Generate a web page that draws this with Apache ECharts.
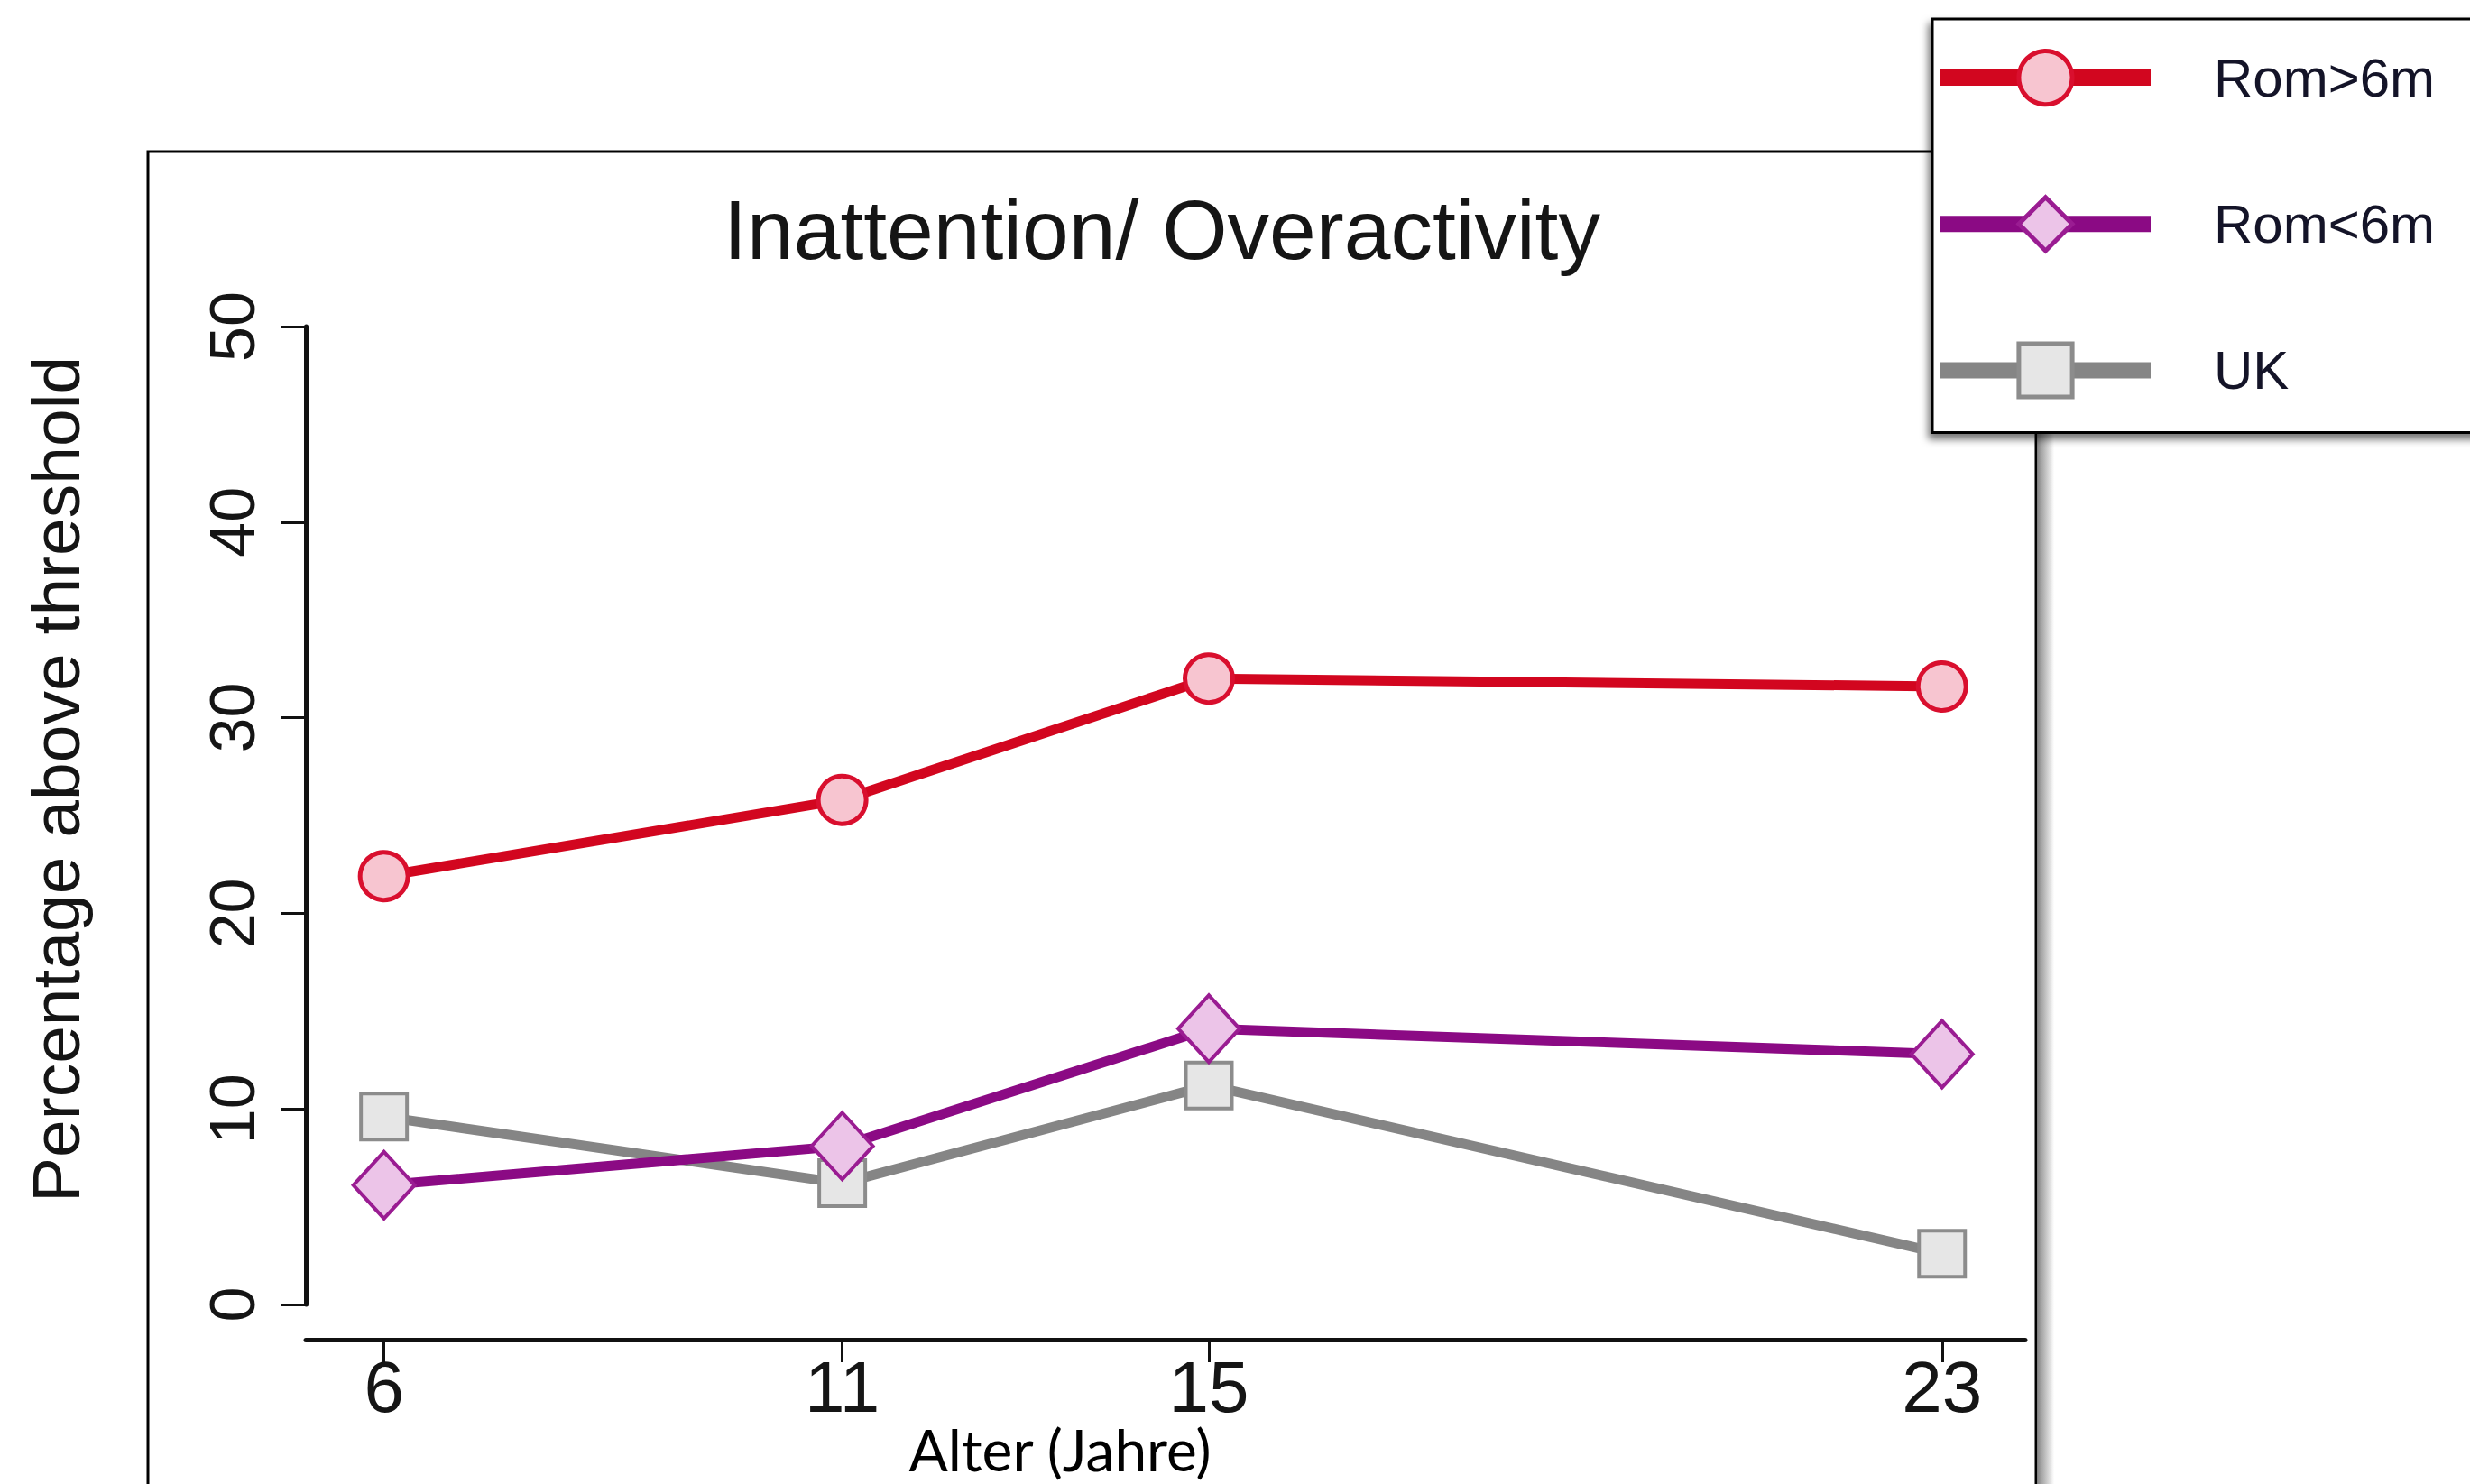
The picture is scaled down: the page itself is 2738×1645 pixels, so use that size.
<!DOCTYPE html>
<html>
<head>
<meta charset="utf-8">
<script src="https://cdn.jsdelivr.net/npm/echarts@6/dist/echarts.min.js"></script>
<style>
  html, body { margin: 0; padding: 0; background: #fff; }
  #chart { width: 2738px; height: 1645px; }
</style>
</head>
<body>
<div id="chart"></div>
<script>
// ---- data ----
const ages = [6, 11, 15, 23];
const xTicks = [6, 11, 15, 23];
const yTicks = [0, 10, 20, 30, 40, 50];
const seriesNames = ['Rom>6m', 'Rom<6m', 'UK'];
const romOver6 = [21.9, 25.8, 32.0, 31.6];
const romUnder6 = [6.1, 8.1, 14.1, 12.8];
const uk = [9.6, 6.2, 11.2, 2.6];
const chartTitle = 'Inattention/ Overactivity';
const xTitle = 'Alter (Jahre)';
const yTitle = 'Percentage above threshold';

const FONT = "'Liberation Sans', Arial, Helvetica, sans-serif";
const pairs = (vals) => ages.map((a, i) => [a, vals[i]]);

const chart = echarts.init(document.getElementById('chart'), null, { renderer: 'svg' });

const option = {
  backgroundColor: '#ffffff',
  animation: false,
  grid: { left: 339, right: 493, top: 362, bottom: 199, containLabel: false, outerBoundsMode: 'none' },
  xAxis: {
    type: 'value',
    min: 5.147, max: 23.908,
    offset: 39,
    axisLine: { show: true, onZero: false, lineStyle: { color: '#111', width: 5 } },
    axisTick: { show: true, length: 25, customValues: xTicks, lineStyle: { color: '#111', width: 3 } },
    axisLabel: { customValues: xTicks, margin: 20, fontSize: 80, lineHeight: 64, fontFamily: FONT, color: '#151515' },
    splitLine: { show: false }
  },
  yAxis: {
    type: 'value',
    min: yTicks[0], max: yTicks[yTicks.length - 1], interval: 10,
    axisLine: { show: true, lineStyle: { color: '#111', width: 5 } },
    axisTick: { show: true, length: 27, lineStyle: { color: '#111', width: 3 } },
    axisLabel: { rotate: 90, margin: 46, fontSize: 70, fontFamily: FONT, color: '#151515' },
    splitLine: { show: false }
  },
  legend: {
    show: true,
    data: seriesNames,
    orient: 'vertical',
    left: 2142, top: 21,
    padding: [33, 160, 37, 0],
    itemWidth: 233, itemHeight: 74, itemGap: 98,
    backgroundColor: '#ffffff',
    borderColor: '#000', borderWidth: 3,
    shadowColor: 'rgba(0,0,0,0.55)', shadowBlur: 8, shadowOffsetX: -3, shadowOffsetY: 6,
    selectedMode: false,
    lineStyle: { width: 18 },
    itemStyle: { borderWidth: 5 },
    textStyle: { fontSize: 60, fontFamily: FONT, color: '#141428', padding: [0, 0, 0, 65] },
    z: 20
  },
  graphic: [
    // plot frame
    { type: 'rect', z: 1, silent: true,
      shape: { x: 164, y: 168, width: 2093, height: 1600 },
      style: { fill: 'none', stroke: '#000', lineWidth: 3 } },
    // frame shadow on right
    { type: 'rect', z: 1, silent: true,
      shape: { x: 2259, y: 168, width: 18, height: 1600 },
      style: { fill: new echarts.graphic.LinearGradient(0, 0, 1, 0, [
        { offset: 0, color: '#8a8a8a' }, { offset: 1, color: '#ffffff' }]) } },
    { type: 'text', z: 5, x: 1288, y: 255,
      style: { text: chartTitle, font: "93px " + FONT, fill: '#151515',
               textAlign: 'center', textVerticalAlign: 'middle', align: 'center', verticalAlign: 'middle' } },
    { type: 'text', z: 5, x: 1175, y: 1606,
      style: { text: xTitle, font: "64px Lato, 'Open Sans', sans-serif", fill: '#000', lineHeight: 64,
               textAlign: 'center', textVerticalAlign: 'middle', align: 'center', verticalAlign: 'middle' } },
    { type: 'text', z: 5, x: 62, y: 864, rotation: Math.PI / 2,
      style: { text: yTitle, font: "75px " + FONT, fill: '#151515',
               textAlign: 'center', textVerticalAlign: 'middle', align: 'center', verticalAlign: 'middle' } }
  ],
  series: [
    {
      name: seriesNames[2], type: 'line', data: pairs(uk),
      symbol: 'rect', symbolSize: 51,
      lineStyle: { color: '#858585', width: 11 },
      itemStyle: { color: '#e6e6e6', borderColor: '#8c8c8c', borderWidth: 4 },
      emphasis: { disabled: true }, z: 3
    },
    {
      name: seriesNames[1], type: 'line', data: pairs(romUnder6),
      symbol: 'diamond', symbolSize: [68, 74],
      lineStyle: { color: '#8b0a84', width: 11 },
      itemStyle: { color: '#ecc4e8', borderColor: '#9a1c92', borderWidth: 4 },
      emphasis: { disabled: true }, z: 4
    },
    {
      name: seriesNames[0], type: 'line', data: pairs(romOver6),
      symbol: 'circle', symbolSize: 53,
      lineStyle: { color: '#d2061f', width: 11 },
      itemStyle: { color: '#f7c5d0', borderColor: '#d90f2e', borderWidth: 5 },
      emphasis: { disabled: true }, z: 5
    }
  ]
};

chart.setOption(option);
</script>
</body>
</html>
